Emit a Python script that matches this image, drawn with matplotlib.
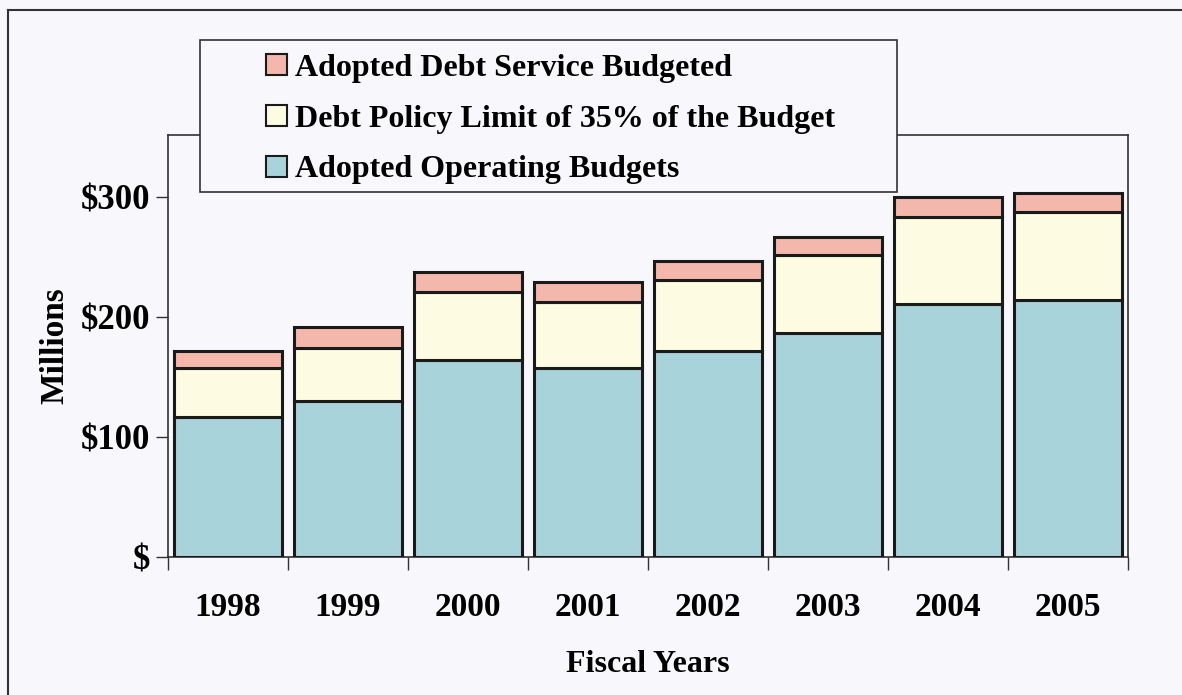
import numpy as np
import matplotlib.pyplot as plt
from matplotlib.lines import Line2D
from matplotlib.patches import Rectangle

# values in $ millions
years = ['1998', '1999', '2000', '2001', '2002', '2003', '2004', '2005']
operating = [117, 130, 164, 158, 172, 187, 211, 214]
policy_limit = [41, 44, 57, 55, 59, 65, 73, 74]
debt_service = [14, 18, 17, 16, 16, 15, 16, 16]

c_blue = '#a9d3db'
c_yellow = '#fdfbe2'
c_pink = '#f3b7ab'
bg = '#f8f7fc'

plt.rcParams['font.family'] = ['Liberation Serif', 'DejaVu Serif']
plt.rcParams['font.weight'] = 'bold'

W, H = 1182, 695
fig = plt.figure(figsize=(W / 100, H / 100), dpi=100, facecolor=bg)
ax = fig.add_axes([168 / W, 1 - 557 / H, (1128 - 168) / W, (557 - 135) / H])
ax.set_facecolor(bg)

x = np.arange(len(years))
bottom2 = np.array(operating) + np.array(policy_limit)
kw = dict(width=0.9, edgecolor='#1a1a1a', linewidth=2.2, zorder=3)
b1 = ax.bar(x, operating, color=c_blue, **kw)
b2 = ax.bar(x, policy_limit, bottom=operating, color=c_yellow, **kw)
b3 = ax.bar(x, debt_service, bottom=bottom2, color=c_pink, **kw)

ax.set_xlim(-0.5, len(years) - 0.5)
ax.set_ylim(0, 352)
ax.set_yticks([0, 100, 200, 300])
ax.set_yticklabels(['$', '$100', '$200', '$300'], fontsize=25, fontweight='bold')
ax.set_xticks(x)
ax.set_xticklabels(years, fontsize=24, fontweight='bold')
ax.set_xticks(np.arange(-0.5, len(years)), minor=True)
ax.tick_params(axis='x', which='major', length=0, pad=25)
ax.tick_params(axis='x', which='minor', length=9, width=1, direction='out', color='#333333')
ax.tick_params(axis='y', length=9, width=1, direction='out', color='#333333', pad=4)

for s in ax.spines.values():
    s.set_color('#333333')
    s.set_linewidth(1.2)

ax.set_xlabel('Fiscal Years', fontsize=23, fontweight='bold', labelpad=20)
ax.set_ylabel('Millions', fontsize=24, fontweight='bold', labelpad=7)

# legend box drawn separately so its padding matches the original
fig.add_artist(Rectangle((200 / W, 1 - 192 / H), (897 - 200) / W, (192 - 40) / H,
                         transform=fig.transFigure, facecolor=bg, edgecolor='#333333',
                         linewidth=1.2, zorder=9))
leg = fig.legend([b3, b2, b1],
                 ['Adopted Debt Service Budgeted',
                  'Debt Policy Limit of 35% of the Budget',
                  'Adopted Operating Budgets'],
                 loc='upper left',
                 bbox_to_anchor=(266 / W, 1 - 54 / H),
                 prop={'size': 23, 'weight': 'bold'},
                 frameon=False,
                 handlelength=0.65, handleheight=0.65, handletextpad=0.25,
                 labelspacing=0.68, borderpad=0, borderaxespad=0)
leg.set_zorder(10)
for h in leg.legend_handles:
    h.set_linewidth(1.5)

# outer border (left and top)
fig.add_artist(Line2D([8 / W, 8 / W], [0, 1 - 10 / H], transform=fig.transFigure,
                      color='#333333', linewidth=1.5))
fig.add_artist(Line2D([8 / W, 1], [1 - 10 / H, 1 - 10 / H], transform=fig.transFigure,
                      color='#333333', linewidth=1.5))

fig.savefig('out.png', dpi=100, facecolor=bg)
